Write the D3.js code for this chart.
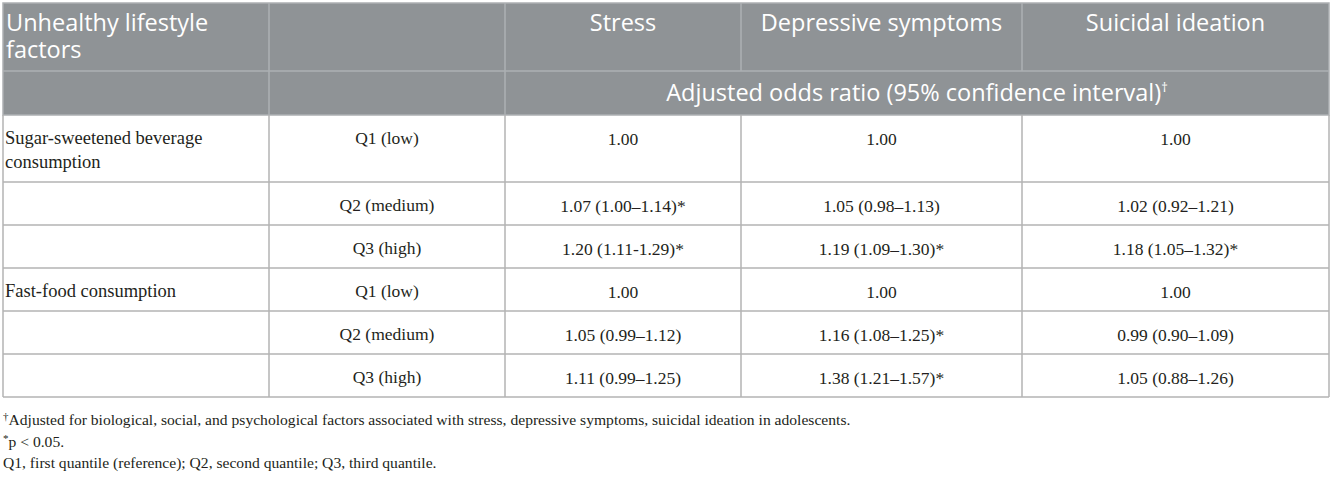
<!DOCTYPE html>
<html>
<head>
<meta charset="utf-8">
<script src="https://cdn.jsdelivr.net/npm/d3@7"></script>
<style>
  body { margin: 0; background: #fff; }
  .head { font-family: "Open Sans", sans-serif; fill: #fff; font-size: 23.5px; }
  .cell { font-family: "Liberation Serif", serif; fill: #231f20; font-size: 17.5px; }
  .factor { font-size: 18.5px; }
  .note { font-family: "Liberation Serif", serif; fill: #231f20; font-size: 15.6px; }
</style>
</head>
<body>
<div id="container"></div>
<script>
// table content
const outcomes = ["Stress", "Depressive symptoms", "Suicidal ideation"];
const factorTitle = "Unhealthy lifestyle factors";
const subHeader = "Adjusted odds ratio (95% confidence interval)";
const subHeaderMark = "†";
const factors = ["Sugar-sweetened beverage consumption", "Fast-food consumption"];
const quantiles = ["Q1 (low)", "Q2 (medium)", "Q3 (high)"];
const stressOR = ["1.00", "1.07 (1.00–1.14)*", "1.20 (1.11-1.29)*", "1.00", "1.05 (0.99–1.12)", "1.11 (0.99–1.25)"];
const depressiveOR = ["1.00", "1.05 (0.98–1.13)", "1.19 (1.09–1.30)*", "1.00", "1.16 (1.08–1.25)*", "1.38 (1.21–1.57)*"];
const suicidalOR = ["1.00", "1.02 (0.92–1.21)", "1.18 (1.05–1.32)*", "1.00", "0.99 (0.90–1.09)", "1.05 (0.88–1.26)"];
const noteMarks = ["†", "*", ""];
const noteTexts = [
  "Adjusted for biological, social, and psychological factors associated with stress, depressive symptoms, suicidal ideation in adolescents.",
  "p < 0.05.",
  "Q1, first quantile (reference); Q2, second quantile; Q3, third quantile."
];

const width = 1333, height = 480;
const tLeft = 3, tRight = 1329, tTop = 3;
const colFrac = [0, 266, 502, 738, 1019, 1326];   // column edges relative to table left
const headH = [68, 44];
const rowBase = 43, lineH = 24, headLineH = 27;
const headFill = "#8f9396", headLine = "#adb0b3", bodyLine = "#b3b3b3";

const x = d3.scaleLinear().domain([0, 1326]).range([tLeft, tRight]);
const colX = colFrac.map(x);

const svg = d3.select("#container").append("svg")
  .attr("width", width).attr("height", height);

// wrap text into lines fitting a width
function wrapLines(text, cls, maxW) {
  const probe = svg.append("text").attr("class", cls);
  const words = text.split(" ");
  let lines = [], cur = "";
  words.forEach(w => {
    const t = cur ? cur + " " + w : w;
    probe.text(t);
    if (probe.node().getComputedTextLength() > maxW && cur) {
      lines.push(cur); cur = w;
    } else cur = t;
  });
  lines.push(cur);
  probe.remove();
  return lines;
}

// ---------- header ----------
const head = svg.append("g");
const headY = [tTop, tTop + headH[0], tTop + headH[0] + headH[1]];
head.append("rect")
  .attr("x", tLeft).attr("y", tTop)
  .attr("width", tRight - tLeft).attr("height", headY[2] - tTop)
  .attr("fill", headFill);

// header cells row 1
const titleLines = wrapLines(factorTitle, "head", 250);
head.append("text").attr("class", "head")
  .attr("x", colX[0] + 3).attr("y", tTop + 28)
  .selectAll("tspan").data(titleLines).enter().append("tspan")
  .attr("x", colX[0] + 3).attr("dy", (d, i) => i ? headLineH : 0)
  .text(d => d);

head.selectAll("text.outcome").data(outcomes).enter().append("text")
  .attr("class", "head outcome")
  .attr("x", (d, i) => (colX[i + 2] + colX[i + 3]) / 2)
  .attr("y", tTop + 28)
  .attr("text-anchor", "middle")
  .text(d => d);

const sub = head.append("text").attr("class", "head")
  .attr("x", (colX[2] + colX[5]) / 2).attr("y", headY[1] + 30)
  .attr("text-anchor", "middle");
sub.append("tspan").text(subHeader);
sub.append("tspan").attr("font-size", 13).attr("dy", -9).text(subHeaderMark);

// header grid
const headSeg = [];
colX.slice(1, 5).forEach((cx, i) => {
  headSeg.push([cx, headY[0], cx, headY[1]]);
  if (i < 2) headSeg.push([cx, headY[1], cx, headY[2]]);
});
headSeg.push([tLeft, headY[1], tRight, headY[1]]);
head.selectAll("line").data(headSeg).enter().append("line")
  .attr("x1", d => d[0]).attr("y1", d => d[1])
  .attr("x2", d => d[2]).attr("y2", d => d[3])
  .attr("stroke", headLine).attr("stroke-width", 1.5);
head.append("rect")
  .attr("x", tLeft).attr("y", tTop)
  .attr("width", tRight - tLeft).attr("height", headY[2] - tTop)
  .attr("fill", "none").attr("stroke", headLine).attr("stroke-width", 1.5);

// ---------- body ----------
const rows = d3.range(6).map(i => ({
  factor: i % 3 === 0 ? factors[i / 3] : "",
  quantile: quantiles[i % 3],
  vals: [stressOR[i], depressiveOR[i], suicidalOR[i]]
}));
rows.forEach(r => {
  r.lines = r.factor ? wrapLines(r.factor, "cell factor", 250) : [];
  r.h = rowBase + lineH * Math.max(0, r.lines.length - 1);
});
let yAcc = headY[2];
rows.forEach(r => { r.y = yAcc; yAcc += r.h; });
const bodyBottom = yAcc;

const body = svg.append("g");
const rowG = body.selectAll("g.row").data(rows).enter().append("g")
  .attr("class", "row")
  .attr("transform", d => "translate(0," + d.y + ")");

rowG.append("text").attr("class", "cell factor")
  .attr("y", 29)
  .selectAll("tspan").data(d => d.lines).enter().append("tspan")
  .attr("x", colX[0] + 2).attr("dy", (d, i) => i ? lineH : 0)
  .text(d => d);

rowG.append("text").attr("class", "cell")
  .attr("x", (colX[1] + colX[2]) / 2).attr("y", 29)
  .attr("text-anchor", "middle")
  .text(d => d.quantile);

rowG.selectAll("text.val").data(d => d.vals).enter().append("text")
  .attr("class", "cell val")
  .attr("x", (d, i) => (colX[i + 2] + colX[i + 3]) / 2).attr("y", 30)
  .attr("text-anchor", "middle")
  .text(d => d);

// body grid
rowG.append("line")
  .attr("x1", tLeft).attr("x2", tRight)
  .attr("y1", d => d.h).attr("y2", d => d.h)
  .attr("stroke", bodyLine).attr("stroke-width", 1.5);
body.selectAll("line.col").data(colX).enter().append("line")
  .attr("class", "col")
  .attr("x1", d => d).attr("x2", d => d)
  .attr("y1", headY[2]).attr("y2", bodyBottom)
  .attr("stroke", bodyLine).attr("stroke-width", 1.5);

// ---------- footnotes ----------
const notes = svg.append("g");
const noteT = notes.selectAll("text").data(noteTexts).enter().append("text")
  .attr("class", "note")
  .attr("x", tLeft).attr("y", (d, i) => bodyBottom + 28 + i * 21.5);
noteT.append("tspan").attr("font-size", 11).attr("dy", -5)
  .text((d, i) => noteMarks[i]);
noteT.append("tspan").attr("dy", (d, i) => noteMarks[i] ? 5 : 0)
  .text(d => d);
</script>
</body>
</html>
